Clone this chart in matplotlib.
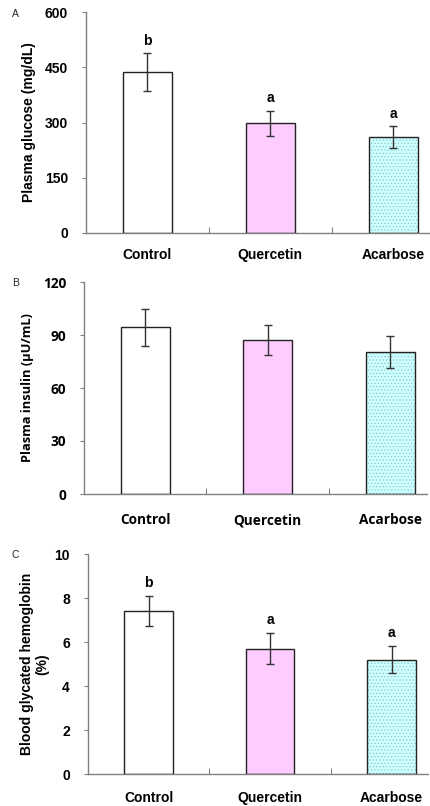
import matplotlib
matplotlib.use("Agg")
import matplotlib.pyplot as plt

groups = ["Control", "Quercetin", "Acarbose"]

glucose = [437, 298, 261]
glucose_err = [51, 34, 29]
glucose_letters = ["b", "a", "a"]

insulin = [94.4, 87.0, 80.5]
insulin_err = [10.5, 8.6, 9.0]

hba1c = [7.4, 5.7, 5.2]
hba1c_err = [0.68, 0.70, 0.6]
hba1c_letters = ["b", "a", "a"]

fills = ["white", "#FFCCFF", "#CCFFFF"]
hatches = [None, None, "....."]

W, H = 431, 806
fig = plt.figure(figsize=(W / 100, H / 100), dpi=100)
plt.rcParams["hatch.linewidth"] = 0.4

def make_axes(l, r, top, bot):
    return fig.add_axes([l / W, 1 - bot / H, (r - l) / W, (bot - top) / H])

panels = [
    dict(box=(86, 430, 12, 233), vals=glucose, err=glucose_err, letters=glucose_letters,
         ylim=(0, 600), ticks=[0, 150, 300, 450, 600], ylabel="Plasma glucose (mg/dL)",
         font="Liberation Sans", fs=10, lfs=10, tag="A", tagy=14, xpad=11, lab_off=15, lpad=6),
    dict(box=(84, 427, 282, 494), vals=insulin, err=insulin_err, letters=None,
         ylim=(0, 120), ticks=[0, 30, 60, 90, 120], ylabel="Plasma insulin (μU/mL)",
         font="Open Sans", fs=9.8, lfs=9.3, tag="B", tagy=283, xpad=14, lab_off=0, lpad=6),
    dict(box=(88, 428, 554, 774), vals=hba1c, err=hba1c_err, letters=hba1c_letters,
         ylim=(0, 10), ticks=[0, 2, 4, 6, 8, 10], ylabel="Blood glycated hemoglobin\n(%)",
         font="Liberation Sans", fs=10, lfs=10, tag="C", tagy=555, xpad=12, lab_off=0.3, lpad=4),
]

axis_col = "#808080"
for p in panels:
    ax = make_axes(*p["box"])
    fs = p["fs"]
    x = list(range(len(groups)))
    for i in range(len(groups)):
        ax.bar([x[i]], [p["vals"][i]], width=0.4, color=fills[i], edgecolor="#88bbbb",
               linewidth=0, hatch=hatches[i], zorder=2)
    ax.bar(x, p["vals"], width=0.4, fill=False, edgecolor="#222222", linewidth=1.0, zorder=3)
    ax.errorbar(x, p["vals"], yerr=p["err"], fmt="none", ecolor="#333333",
                elinewidth=1.0, capsize=3, capthick=1.0, zorder=4)
    if p["letters"]:
        for xi, v, e, t in zip(x, p["vals"], p["err"], p["letters"]):
            ax.text(xi, v + e + p["lab_off"], t, ha="center", va="bottom",
                    fontsize=10, fontweight="bold", family=p["font"])
    ax.set_xlim(-0.5, 2.3)
    ax.set_ylim(*p["ylim"])
    ax.set_yticks(p["ticks"])
    ax.set_xticks([0.5, 1.5], minor=False)
    ax.set_xticklabels([])
    ax.set_xticks(x, minor=True)
    ax.set_xticklabels(groups, minor=True, fontsize=fs, fontweight="bold", family=p["font"])
    ax.tick_params(axis="x", which="major", direction="in", length=4, color=axis_col)
    ax.tick_params(axis="x", which="minor", length=0, pad=p["xpad"])
    ax.tick_params(axis="y", direction="out", length=3, color=axis_col, pad=10)
    for lab in ax.get_yticklabels():
        lab.set_fontsize(fs)
        lab.set_fontweight("bold")
        lab.set_family(p["font"])
    for s in ["top", "right"]:
        ax.spines[s].set_visible(False)
    for s in ["left", "bottom"]:
        ax.spines[s].set_color(axis_col)
        ax.spines[s].set_linewidth(1.0)
    ax.set_ylabel(p["ylabel"], fontsize=p["lfs"], fontweight="bold", family=p["font"],
                  labelpad=p["lpad"], linespacing=1.1)
    fig.text(12 / W, 1 - p["tagy"] / H, p["tag"], fontsize=7.5, ha="left", va="center",
             family="Liberation Sans", color="#222222")

fig.savefig("out.png", dpi=100)
